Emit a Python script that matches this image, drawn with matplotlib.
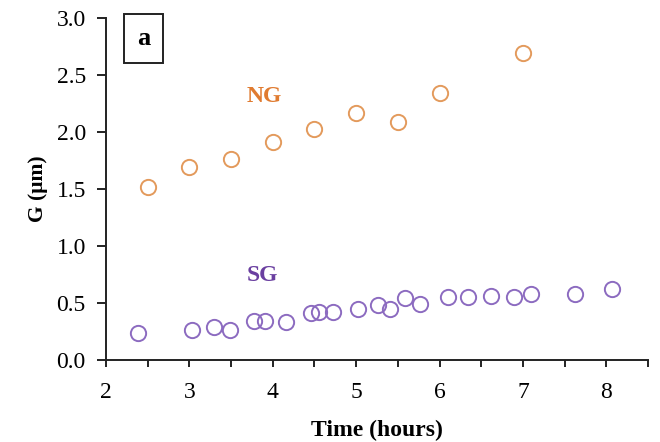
import matplotlib
matplotlib.use('Agg')
import matplotlib.pyplot as plt
from matplotlib.ticker import MultipleLocator

# NG series
ng_time = [2.5, 3.0, 3.5, 4.0, 4.5, 5.0, 5.5, 6.0, 7.0]
ng_g = [1.52, 1.69, 1.76, 1.91, 2.03, 2.17, 2.09, 2.34, 2.69]

# SG series
sg_time = [2.38, 3.03, 3.29, 3.49, 3.77, 3.91, 4.16, 4.46, 4.56, 4.72, 5.02,
           5.26, 5.41, 5.58, 5.76, 6.10, 6.34, 6.62, 6.89, 7.10, 7.63, 8.07]
sg_g = [0.24, 0.26, 0.29, 0.26, 0.34, 0.34, 0.33, 0.41, 0.42, 0.42, 0.45,
        0.48, 0.45, 0.54, 0.49, 0.55, 0.55, 0.56, 0.55, 0.58, 0.58, 0.62]

plt.rcParams['font.family'] = ['Liberation Serif', 'DejaVu Serif']

fig = plt.figure(figsize=(6.6, 4.42), dpi=100)
ax = fig.add_axes([106 / 660, 1 - 360 / 442, (648 - 106) / 660, (360 - 18) / 442])

ax.plot(ng_time, ng_g, 'o', mfc='none', mec='#E39A5C', ms=11, mew=1.4)
ax.plot(sg_time, sg_g, 'o', mfc='none', mec='#8C6BC0', ms=11, mew=1.4)

ax.set_xlim(2, 8.5)
ax.set_ylim(0, 3.0)
ax.xaxis.set_major_locator(MultipleLocator(1))
ax.xaxis.set_minor_locator(MultipleLocator(0.5))
ax.yaxis.set_major_locator(MultipleLocator(0.5))
ax.yaxis.set_major_formatter(lambda v, p: f'{v:.1f}')

for s in ['top', 'right']:
    ax.spines[s].set_visible(False)
for s in ['left', 'bottom']:
    ax.spines[s].set_linewidth(1.4)
    ax.spines[s].set_color('#222222')

ax.tick_params(which='both', direction='out', width=1.4, color='#222222',
               labelsize=17)
ax.tick_params(axis='y', length=6.5, pad=8)
ax.tick_params(axis='x', which='both', length=5, pad=11)

ax.set_xlabel('Time (hours)', fontsize=17, fontweight='bold', labelpad=12)
ax.set_ylabel('G (μm)', fontsize=15.5, fontweight='bold', labelpad=6)

ax.text(2.45, 2.82, 'a', fontsize=19, fontweight='bold', ha='center', va='center',
        bbox=dict(boxstyle='square,pad=0.5', fc='white', ec='#222222', lw=1.4))
ax.text(3.9, 2.31, 'NG', fontsize=17, fontweight='bold', color='#E07B30',
        ha='center', va='center')
ax.text(3.87, 0.74, 'SG', fontsize=17, fontweight='bold', color='#6A3FA0',
        ha='center', va='center')

fig.savefig('out.png', dpi=100)
